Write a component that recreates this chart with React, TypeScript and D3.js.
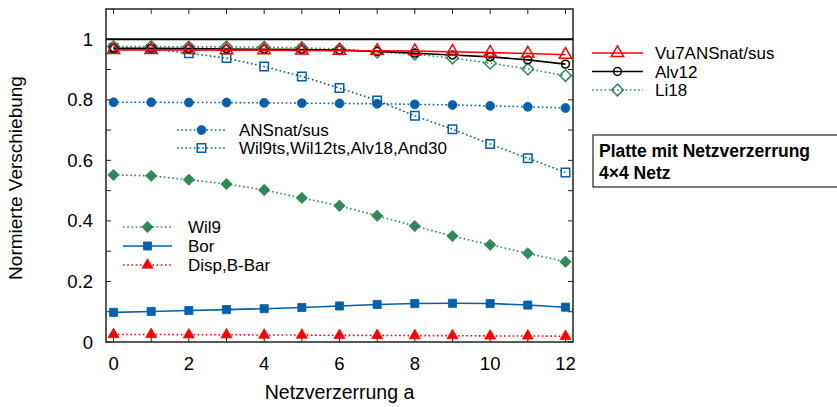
import React, { useEffect, useRef } from 'react';
import * as d3 from 'd3';

// x = Netzverzerrung a
const xs = [0, 1, 2, 3, 4, 5, 6, 7, 8, 9, 10, 11, 12];

const vu7 = [0.965, 0.965, 0.965, 0.964, 0.964, 0.963, 0.962, 0.962, 0.961, 0.959, 0.956, 0.953, 0.949];
const alv12 = [0.970, 0.970, 0.969, 0.968, 0.967, 0.966, 0.964, 0.960, 0.954, 0.948, 0.942, 0.932, 0.918];
const li18 = [0.976, 0.976, 0.975, 0.975, 0.974, 0.972, 0.968, 0.958, 0.951, 0.938, 0.921, 0.902, 0.880];
const ansnat = [0.792, 0.792, 0.791, 0.791, 0.790, 0.789, 0.788, 0.787, 0.785, 0.783, 0.780, 0.777, 0.773];
const wil9ts = [0.971, 0.968, 0.954, 0.938, 0.910, 0.877, 0.839, 0.798, 0.747, 0.703, 0.654, 0.607, 0.560];
const wil9 = [0.552, 0.549, 0.536, 0.522, 0.502, 0.476, 0.450, 0.417, 0.383, 0.350, 0.321, 0.293, 0.265];
const bor = [0.098, 0.101, 0.104, 0.107, 0.110, 0.114, 0.119, 0.124, 0.127, 0.128, 0.127, 0.122, 0.115];
const disp = [0.025, 0.025, 0.024, 0.024, 0.023, 0.023, 0.022, 0.022, 0.021, 0.021, 0.020, 0.020, 0.019];
const refLine = [1, 1];

const xTickLabels = [0, 2, 4, 6, 8, 10, 12];
const yTickLabels = [0, 0.2, 0.4, 0.6, 0.8, 1];

const RED = '#ff0000';
const BLACK = '#000000';
const GREEN = '#2e8b57';
const BLUE = '#0060ad';

// drawing order as in the plot
const series = [
  { name: 'Wil9', values: wil9, color: GREEN, dotted: true, marker: 'diamond', filled: true },
  { name: 'Bor', values: bor, color: BLUE, dotted: false, marker: 'square', filled: true },
  { name: 'Disp,B-Bar', values: disp, color: RED, dotted: true, marker: 'triangle', filled: true },
  { name: 'ANSnat/sus', values: ansnat, color: BLUE, dotted: true, marker: 'circle', filled: true },
  { name: 'Wil9ts,Wil12ts,Alv18,And30', values: wil9ts, color: BLUE, dotted: true, marker: 'square', filled: false },
  { name: 'Li18', values: li18, color: GREEN, dotted: true, marker: 'diamond', filled: false },
  { name: 'Alv12', values: alv12, color: BLACK, dotted: false, marker: 'circle', filled: false },
  { name: 'Vu7ANSnat/sus', values: vu7, color: RED, dotted: false, marker: 'triangle', filled: false },
];

const legendOrder = [
  ['Vu7ANSnat/sus', 'Alv12', 'Li18'],
  ['ANSnat/sus', 'Wil9ts,Wil12ts,Alv18,And30'],
  ['Wil9', 'Bor', 'Disp,B-Bar'],
];

function symbolPath(marker: string, filled: boolean) {
  if (marker === 'triangle') return d3.symbol(d3.symbolTriangle, filled ? 52 : 66)();
  if (marker === 'circle') return d3.symbol(d3.symbolCircle, filled ? 62 : 48)();
  if (marker === 'square') return d3.symbol(d3.symbolSquare, filled ? 66 : 72)();
  return d3.symbol(d3.symbolSquare, filled ? 64 : 68)();
}

const App = () => {
  const ref = useRef<SVGSVGElement>(null);

  useEffect(() => {
    document.body.style.margin = '0';
    const svg = d3.select(ref.current);
    svg.selectAll('*').remove();

    const left = 106, right = 573, top = 9, bottom = 342;
    const x = d3.scaleLinear().domain([-0.2, 12.2]).range([left, right]);
    const y = d3.scaleLinear().domain([0, 1.1]).range([bottom, top]);
    const font = 'Liberation Sans, Arial, Helvetica, sans-serif';

    // ticks on all four sides, inward
    const g = svg.append('g');
    d3.range(0, 13).forEach((t) => {
      g.append('line').attr('x1', x(t)).attr('x2', x(t)).attr('y1', bottom).attr('y2', bottom - 5)
        .attr('stroke', '#222').attr('stroke-width', 1);
      g.append('line').attr('x1', x(t)).attr('x2', x(t)).attr('y1', top).attr('y2', top + 5)
        .attr('stroke', '#222').attr('stroke-width', 1);
    });
    d3.range(0, 11).forEach((i) => {
      const t = i / 10;
      g.append('line').attr('x1', left).attr('x2', left + 5).attr('y1', y(t)).attr('y2', y(t))
        .attr('stroke', '#222').attr('stroke-width', 1);
      g.append('line').attr('x1', right).attr('x2', right - 5).attr('y1', y(t)).attr('y2', y(t))
        .attr('stroke', '#222').attr('stroke-width', 1);
    });

    g.selectAll('text.xt').data(xTickLabels).enter().append('text')
      .attr('x', (d) => x(d)).attr('y', 370).attr('text-anchor', 'middle')
      .attr('font-family', font).attr('font-size', 18.5).text((d) => String(d));
    g.selectAll('text.yt').data(yTickLabels).enter().append('text')
      .attr('x', 93).attr('y', (d) => y(d) + 6.5).attr('text-anchor', 'end')
      .attr('font-family', font).attr('font-size', 18.5).text((d) => String(d));

    svg.append('text').attr('x', (left + right) / 2).attr('y', 399).attr('text-anchor', 'middle')
      .attr('font-family', font).attr('font-size', 19.5).text('Netzverzerrung a');
    svg.append('text').attr('transform', 'translate(22,178) rotate(-90)')
      .attr('text-anchor', 'middle').attr('font-family', font).attr('font-size', 19)
      .text('Normierte Verschiebung');

    // reference line y = 1
    svg.append('line').attr('x1', left).attr('x2', right).attr('y1', y(refLine[0])).attr('y2', y(refLine[1]))
      .attr('stroke', BLACK).attr('stroke-width', 2);

    const line = d3.line<number>().x((d, i) => x(xs[i])).y((d) => y(d));

    const drawMarker = (sel: any, s: any, cx: number, cy: number) => {
      sel.append('path').attr('d', symbolPath(s.marker, s.filled))
        .attr('transform', 'translate(' + cx + ',' + cy + ')' + (s.marker === 'diamond' ? ' rotate(45)' : ''))
        .attr('fill', s.filled ? s.color : 'none')
        .attr('stroke', s.color).attr('stroke-width', s.filled ? 0.8 : 1.5);
    };

    series.forEach((s) => {
      svg.append('path').datum(s.values).attr('d', line).attr('fill', 'none')
        .attr('stroke', s.color).attr('stroke-width', 1.6)
        .attr('stroke-dasharray', s.dotted ? '1.6,2.6' : null);
      const pts = svg.append('g');
      s.values.forEach((v, i) => drawMarker(pts, s, x(xs[i]), y(v)));
    });

    // frame
    svg.append('rect').attr('x', left).attr('y', top).attr('width', right - left).attr('height', bottom - top)
      .attr('fill', 'none').attr('stroke', '#222').attr('stroke-width', 1.5);

    // legends
    const legendPos = [
      { x1: 592, x2: 643, tx: 655, y0: 53, dy: 18.5 },
      { x1: 177, x2: 226, tx: 239, y0: 130, dy: 18 },
      { x1: 123, x2: 172, tx: 188, y0: 227, dy: 19 },
    ];
    legendOrder.forEach((names, li) => {
      const p = legendPos[li];
      names.forEach((n, k) => {
        const s = series.find((q) => q.name === n)!;
        const cy = p.y0 + k * p.dy;
        svg.append('line').attr('x1', p.x1).attr('x2', p.x2).attr('y1', cy).attr('y2', cy)
          .attr('stroke', s.color).attr('stroke-width', 1.6)
          .attr('stroke-dasharray', s.dotted ? '1.6,2.6' : null);
        drawMarker(svg, s, (p.x1 + p.x2) / 2, cy);
        svg.append('text').attr('x', p.tx).attr('y', cy + 6).attr('font-family', font)
          .attr('font-size', 17).text(n);
      });
    });

    // info box
    svg.append('rect').attr('x', 593).attr('y', 135).attr('width', 246).attr('height', 52)
      .attr('fill', 'none').attr('stroke', '#222').attr('stroke-width', 1.2);
    svg.append('text').attr('x', 599).attr('y', 157).attr('font-family', font).attr('font-weight', 'bold')
      .attr('font-size', 17.5).text('Platte mit Netzverzerrung');
    svg.append('text').attr('x', 599).attr('y', 179).attr('font-family', font).attr('font-weight', 'bold')
      .attr('font-size', 17.5).text('4×4 Netz');
  }, []);

  return <svg ref={ref} width={837} height={407} style={{ display: 'block', background: '#fff' }} />;
};

export default App;
